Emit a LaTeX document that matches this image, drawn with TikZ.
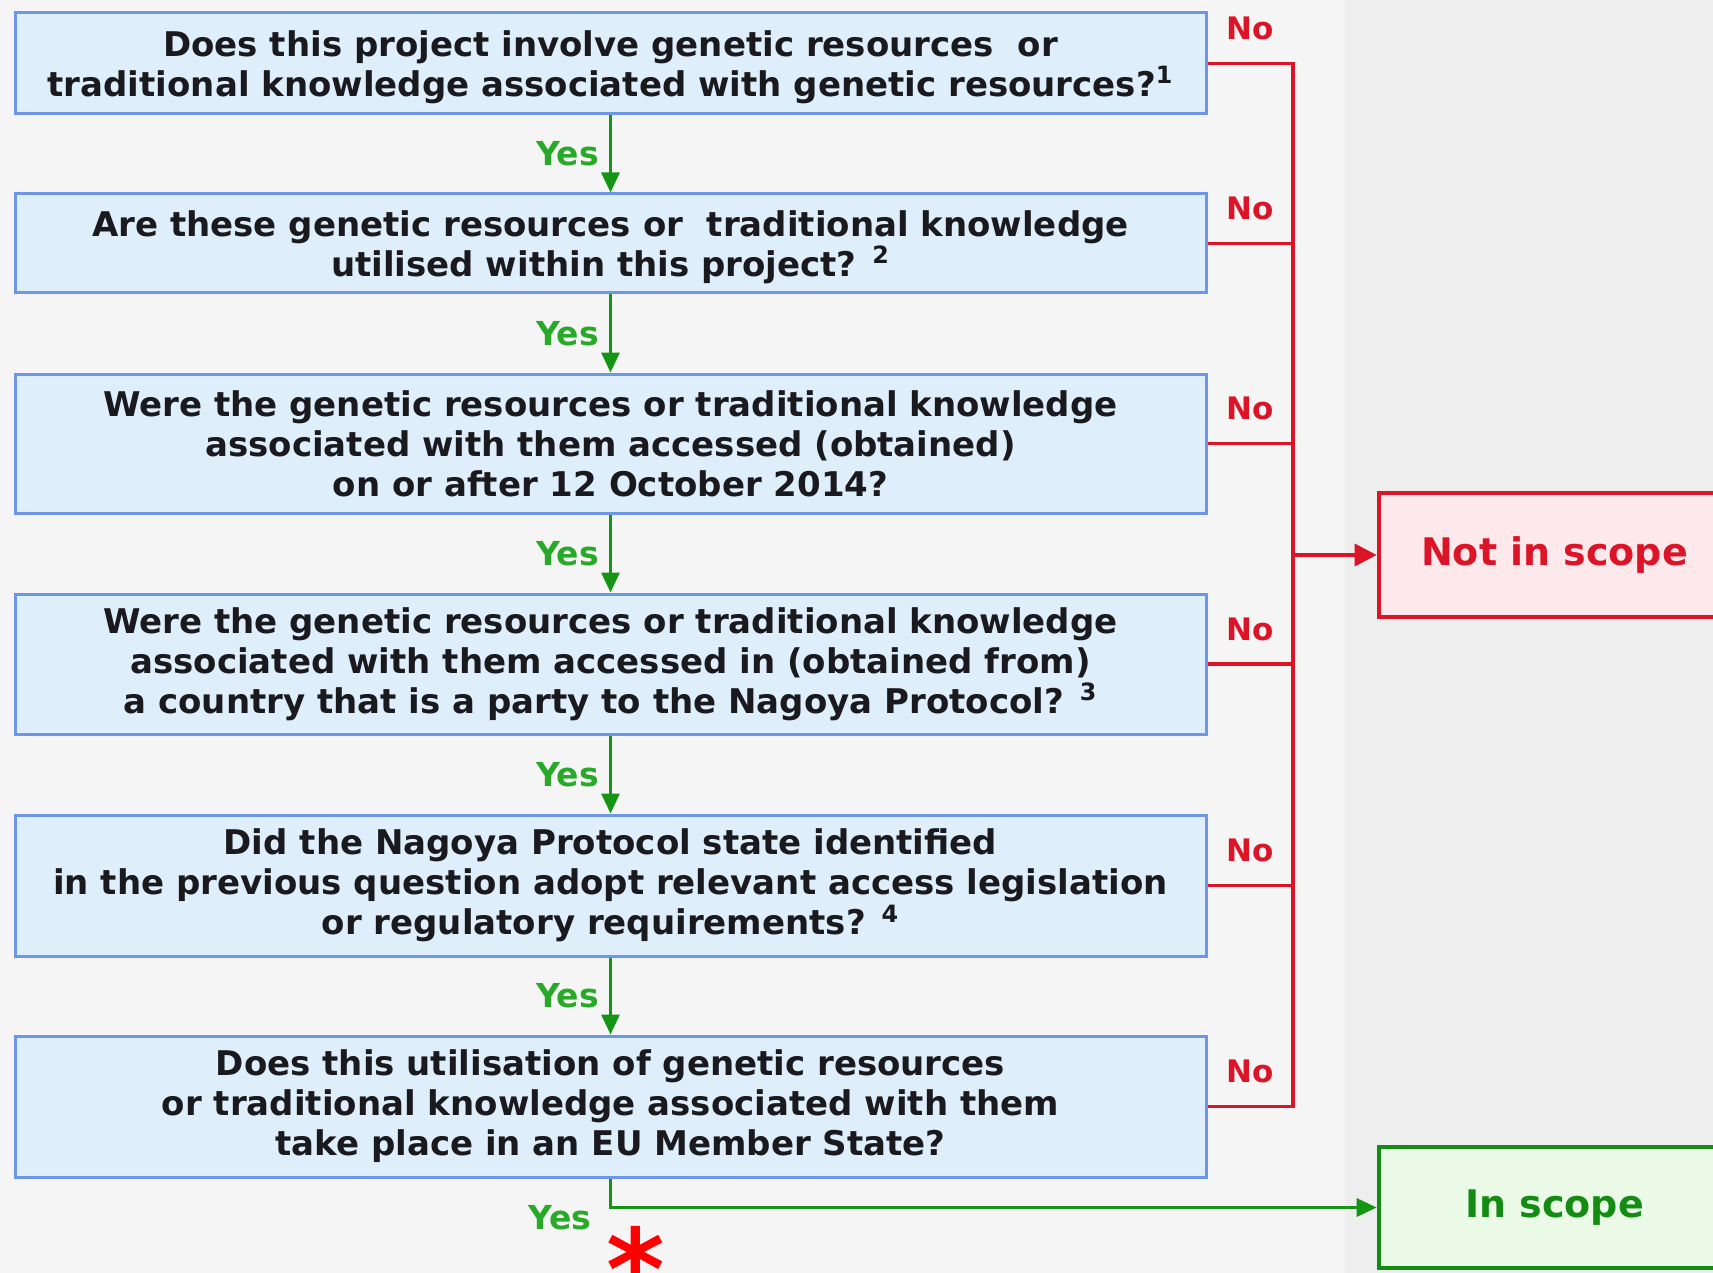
\documentclass[tikz,border=0pt]{standalone}
\usepackage{fontspec}
\setmainfont{DejaVu Sans}
\usetikzlibrary{arrows.meta}
\definecolor{bgcol}{RGB}{238,238,238}
\definecolor{bgleft}{RGB}{245,245,245}
\definecolor{qfill}{RGB}{222,238,251}
\definecolor{qdraw}{RGB}{110,150,230}
\definecolor{nored}{RGB}{220,20,40}
\definecolor{yesgreen}{RGB}{40,170,40}
\definecolor{arrgreen}{RGB}{20,150,20}
\definecolor{ingreen}{RGB}{20,140,20}
\definecolor{pinkfill}{RGB}{253,232,236}
\definecolor{greenfill}{RGB}{234,250,230}
\definecolor{qtext}{RGB}{25,25,30}
\begin{document}
\begin{tikzpicture}[x=0.5pt,y=-0.5pt,
  qbox/.style={draw=qdraw, line width=1.5pt, fill=qfill, minimum width=595.5pt,
    inner sep=0pt, align=center, text=qtext,
    font=\fontsize{17}{20}\selectfont\bfseries},
  yesarrow/.style={draw=arrgreen, line width=1.6pt, -{Triangle[length=10pt,width=9pt]}},
  yeslabel/.style={text=yesgreen, font=\fontsize{16.5}{18}\selectfont\bfseries, inner sep=1pt},
  noline/.style={draw=nored, line width=1.8pt},
  nolabel/.style={text=nored, font=\fontsize{15.5}{18}\selectfont\bfseries, inner sep=1pt},
  outbox/.style={line width=2.3pt, minimum width=175.5pt, inner sep=0pt,
    font=\fontsize{19}{22}\selectfont\bfseries}
]
\useasboundingbox (0,0) rectangle (1713,1273);
\clip (0,0) rectangle (1713,1273);
\fill[bgcol] (0,0) rectangle (1713,1273);
\fill[bgleft] (0,0) rectangle (1345,1273);

\node[qbox, minimum height=50.5pt, text depth=0pt] (b1) at (610.5,63.5)
  {Does this project involve genetic resources\ \ or\\traditional knowledge associated with genetic resources?\textsuperscript{1}};
\node[qbox, minimum height=49.5pt, text depth=0pt] (b2) at (610.5,243.5)
  {Are these genetic resources or\ \ traditional knowledge\\utilised within this project? \textsuperscript{2}};
\node[qbox, minimum height=69.5pt] (b3) at (610.5,443.5)
  {Were the genetic resources or traditional knowledge\\associated with them accessed (obtained)\\on or after 12 October 2014?};
\node[qbox, minimum height=70pt] (b4) at (610.5,664)
  {Were the genetic resources or traditional knowledge\\associated with them accessed in (obtained from)\\a country that is a party to the Nagoya Protocol? \textsuperscript{3}};
\node[qbox, minimum height=70.5pt] (b5) at (610.5,885.5)
  {Did the Nagoya Protocol state identified\\in the previous question adopt relevant access legislation\\or regulatory requirements? \textsuperscript{4}};
\node[qbox, minimum height=70.5pt] (b6) at (610.5,1106.5)
  {Does this utilisation of genetic resources\\or traditional knowledge associated with them\\take place in an EU Member State?};

\node[outbox, draw=nored, fill=pinkfill, text=nored, minimum height=62pt] (nis) at (1554.5,555) {Not in scope};
\node[outbox, draw=ingreen, fill=greenfill, text=ingreen, minimum height=60.5pt] (ins) at (1554.5,1207.5) {In scope};

\coordinate (rx) at (1293,555);

% Yes arrows
\draw[yesarrow] (b1.south) -- node[yeslabel, left, xshift=-4pt] {Yes} (b2.north);
\draw[yesarrow] (b2.south) -- node[yeslabel, left, xshift=-4pt] {Yes} (b3.north);
\draw[yesarrow] (b3.south) -- node[yeslabel, left, xshift=-4pt] {Yes} (b4.north);
\draw[yesarrow] (b4.south) -- node[yeslabel, left, xshift=-4pt] {Yes} (b5.north);
\draw[yesarrow] (b5.south) -- node[yeslabel, left, xshift=-4pt] {Yes} (b6.north);
\draw[yesarrow] (b6.south) -- (b6.south |- ins.west) -- (ins.west);
\node[yeslabel] (yes6) at (560,1218) {Yes};

% No lines
\foreach \b in {b1,b2,b3,b4,b5,b6}{
  \draw[noline] (\b.east) -- node[nolabel, yshift=17.5pt] {No} (\b.east -| rx);
}
\draw[noline, line cap=rect] (b1.east -| rx) -- (b6.east -| rx);
\draw[noline, -{Triangle[length=11pt,width=11pt]}] (rx) -- (nis.west);

\node[text=red, font=\fontsize{56}{60}\selectfont\bfseries, inner sep=0pt] (ast) at (636,1268) {*};
\end{tikzpicture}
\end{document}
